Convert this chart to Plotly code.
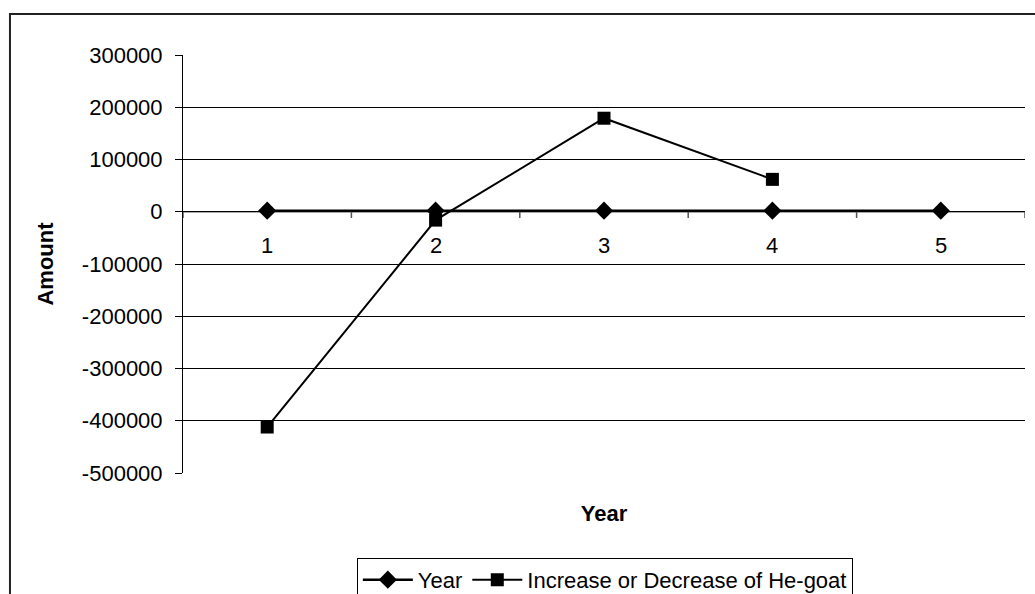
import plotly.graph_objects as go

# Category positions along the x axis and the two series
categories = [1, 2, 3, 4, 5]
year_values = [2001, 2002, 2003, 2004, 2005]
he_goat_change = [-412000, -16000, 179000, 62000, None]

y_ticks = [-500000, -400000, -300000, -200000, -100000, 0, 100000, 200000, 300000]
y_tick_text = [str(v) for v in y_ticks]  # plain hyphen minus, no separators

FONT = "Liberation Sans, Arial, sans-serif"
FS = 22

fig = go.Figure()

fig.add_trace(go.Scatter(
    x=categories, y=year_values, name="Year", mode="lines+markers",
    line=dict(color="black", width=2.5),
    marker=dict(symbol="diamond", size=14, color="black"),
))
fig.add_trace(go.Scatter(
    x=categories, y=he_goat_change, name="Increase or Decrease of He-goat",
    mode="lines+markers",
    line=dict(color="black", width=2),
    marker=dict(symbol="square", size=13, color="black"),
))

# Category axis drawn along the zero line, with ticks between categories
fig.add_shape(type="line", xref="paper", yref="y", x0=0, x1=1, y0=0, y1=0,
              line=dict(color="#555555", width=1.5), layer="below")
for i in range(len(categories) + 1):
    xb = categories[0] - 0.5 + i
    fig.add_shape(type="line", xref="x", yref="y", x0=xb, x1=xb,
                  y0=0, y1=-12000, line=dict(color="#555555", width=1.5))
for c in categories:
    fig.add_annotation(x=c, y=0, xref="x", yref="y", text=str(c),
                       showarrow=False, yshift=-34,
                       font=dict(family=FONT, size=FS, color="black"))

# Outer chart frame
fig.add_shape(type="rect", xref="paper", yref="paper",
              x0=-0.2055, x1=1.05, y0=-0.35, y1=1.098,
              line=dict(color="#222222", width=2), fillcolor="rgba(0,0,0,0)")

fig.update_layout(
    width=1035, height=594,
    margin=dict(l=183, r=10, t=55, b=121, autoexpand=False),
    paper_bgcolor="white", plot_bgcolor="white",
    font=dict(family=FONT, size=FS, color="black"),
    showlegend=True,
    legend=dict(orientation="h", x=0.501, xanchor="center", y=-0.203, yanchor="top",
                bordercolor="black", borderwidth=1, font=dict(size=FS),
                itemwidth=50, tracegroupgap=0),
    xaxis=dict(range=[0.5, 5.5], showticklabels=False, showgrid=False,
               zeroline=False, showline=False, ticks="",
               title=dict(text="<b>Year</b>", standoff=32,
                          font=dict(family=FONT, size=FS))),
    yaxis=dict(range=[-500000, 300000], tickvals=y_ticks, ticktext=y_tick_text,
               showgrid=True, gridcolor="black", gridwidth=1,
               zeroline=False, showline=True, linecolor="black", linewidth=1,
               ticks="outside", ticklen=7, tickcolor="black",
               ticklabelstandoff=8,
               title=dict(text="<b>Amount</b>", standoff=22,
                          font=dict(family=FONT, size=FS))),
)

fig.write_html("out.html")
